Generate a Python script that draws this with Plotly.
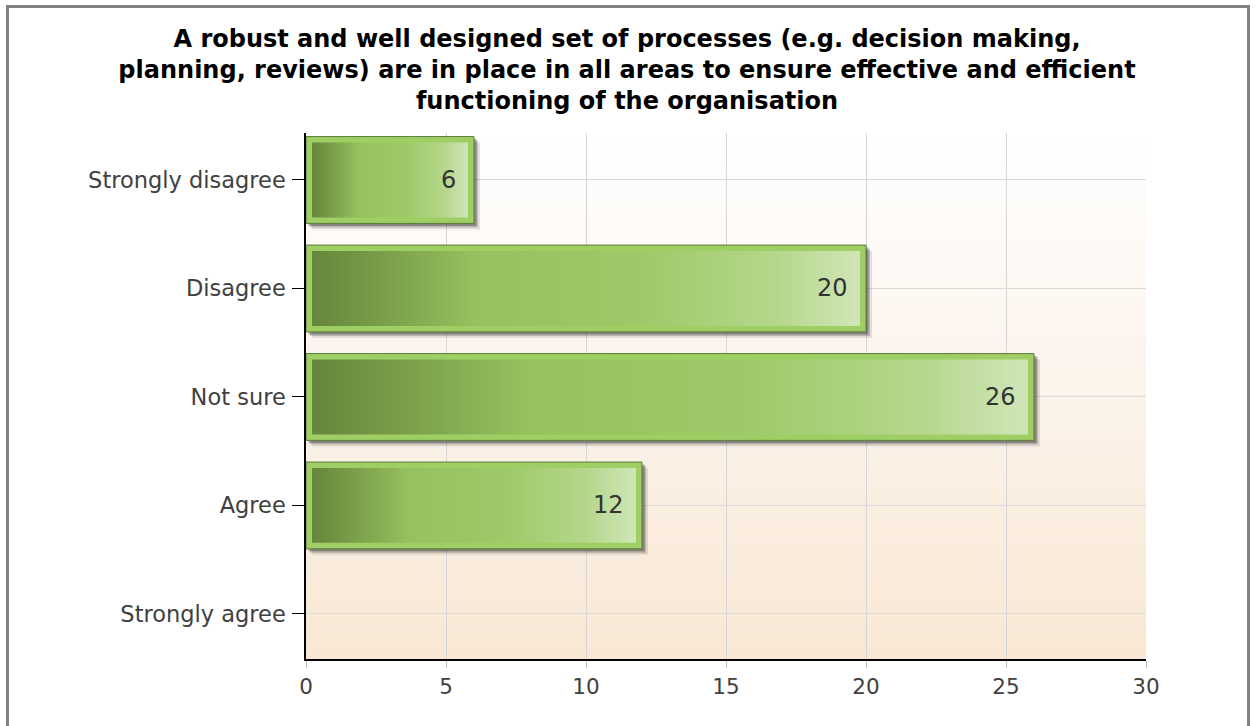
import plotly.graph_objects as go

# survey answers (top to bottom) and the number of responses
categories = ["Strongly disagree", "Disagree", "Not sure", "Agree", "Strongly agree"]
counts = [6, 20, 26, 12, 0]
x_ticks = [0, 5, 10, 15, 20, 25, 30]

title_text = ("<b>A robust and well designed set of processes (e.g. decision making,<br>"
              "planning, reviews) are in place in all areas to ensure effective and efficient<br>"
              "functioning of the organisation</b>")

W, H = 1256, 726
M_L, M_R, M_T, M_B = 306, 110, 133, 67
Y_RANGE = [4.415, -0.433]          # reversed so first category is on top
X_RANGE = [0, 30]
PW, PH = W - M_L - M_R, H - M_T - M_B

px_x = PW / (X_RANGE[1] - X_RANGE[0])
px_y = PH / (Y_RANGE[0] - Y_RANGE[1])

bar_half = 0.4
inset_x, inset_y = 6 / px_x, 6 / px_y
font = "DejaVu Sans"

bar_scale = [[0, "#66863c"], [0.12, "#789c48"], [0.3, "#97c15e"],
             [0.6, "#9fc968"], [0.85, "#b5d78c"], [1, "#d0e6b8"]]

fig = go.Figure()

# drop shadows, outer frame and gradient body of each bar
for i, v in enumerate(counts):
    if v == 0:
        continue
    y0, y1 = i - bar_half, i + bar_half
    for off, alpha in [(6, 0.12), (4, 0.22), (2.5, 0.35)]:
        sx, sy = off / px_x, off / px_y
        fig.add_trace(go.Scatter(
            x=[sx, v + sx, v + sx, sx, sx], y=[y0 + sy, y0 + sy, y1 + sy, y1 + sy, y0 + sy],
            fill="toself", mode="lines", line=dict(width=0),
            fillcolor=f"rgba(40,40,40,{alpha})", hoverinfo="skip"))
    fig.add_trace(go.Scatter(
        x=[0, v, v, 0, 0], y=[y0, y0, y1, y1, y0],
        fill="toself", mode="lines", line=dict(width=1, color="#5c7b3a"),
        fillcolor="#9fcf64", hoverinfo="skip"))
    fig.add_trace(go.Scatter(
        x=[inset_x, v - inset_x, v - inset_x, inset_x, inset_x],
        y=[y0 + inset_y, y0 + inset_y, y1 - inset_y, y1 - inset_y, y0 + inset_y],
        fill="toself", mode="lines", line=dict(width=0),
        fillgradient=dict(type="horizontal", colorscale=bar_scale), hoverinfo="skip"))
    fig.add_annotation(x=v, y=i, text=str(v), showarrow=False, xanchor="right",
                       xshift=-16, font=dict(family=font, size=24, color="#333333"))

# soft vertical background gradient, drawn under the grid
n_bands = 60
top_rgb, bot_rgb = (255, 255, 255), (248, 231, 212)
for k in range(n_bands):
    t = (k + 0.5) / n_bands
    c = tuple(round(a + (b - a) * t) for a, b in zip(top_rgb, bot_rgb))
    fig.add_shape(type="rect", xref="paper", yref="paper", layer="below",
                  x0=0, x1=1, y0=1 - (k + 1) / n_bands, y1=1 - k / n_bands + 0.002,
                  fillcolor=f"rgb{c}", line=dict(width=0))

# outer grey frame
fig.add_shape(type="rect", xref="paper", yref="paper",
              x0=(7.5 - M_L) / PW, x1=(1248.5 - M_L) / PW,
              y0=-0.3, y1=(H - M_B - 6.5) / PH,
              line=dict(color="#808080", width=3), fillcolor="rgba(0,0,0,0)")

fig.update_layout(
    width=W, height=H,
    margin=dict(l=M_L, r=M_R, t=M_T, b=M_B),
    paper_bgcolor="white", plot_bgcolor="white",
    showlegend=False,
    title=dict(text=title_text, x=627 / W, xanchor="center", y=1 - 47 / H, yanchor="top",
               font=dict(family=font, size=24, color="black")),
)
fig.update_xaxes(range=X_RANGE, tickvals=x_ticks, showgrid=True, gridcolor="#d6d6d6",
                 showline=True, linecolor="black", linewidth=1.5,
                 ticks="outside", ticklen=7, tickcolor="#c0c0c0",
                 tickfont=dict(family=font, size=21.5, color="#404040"), zeroline=False)
fig.update_yaxes(range=Y_RANGE, tickvals=list(range(len(categories))), ticktext=categories,
                 showgrid=True, gridcolor="#dadada",
                 showline=True, linecolor="black", linewidth=1.5,
                 ticks="outside", ticklen=12, tickcolor="black", ticklabelstandoff=2,
                 tickfont=dict(family=font, size=22.5, color="#404040"), zeroline=False)

fig.write_html("out.html", config={"displayModeBar": False},
               post_script="document.body.style.margin='0';")
